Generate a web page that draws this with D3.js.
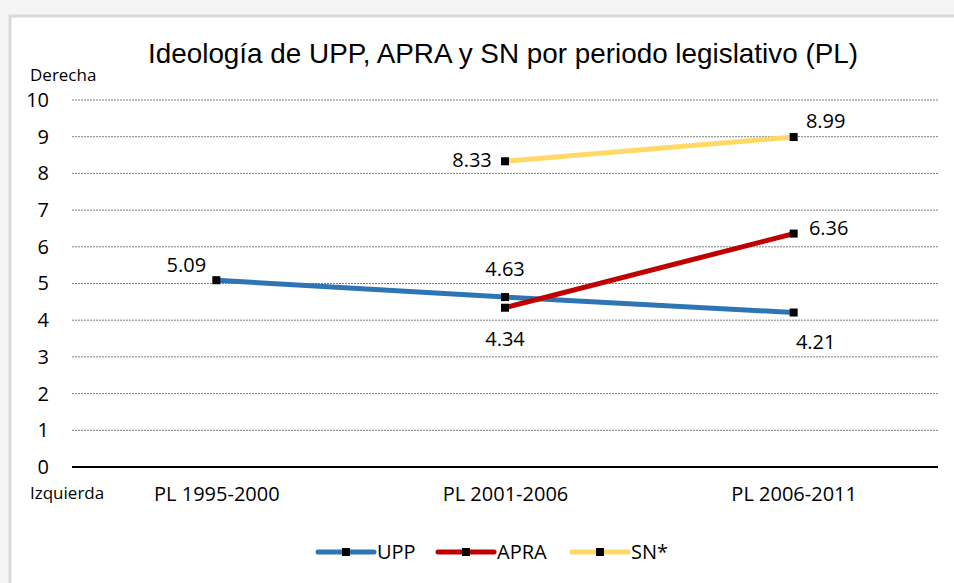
<!DOCTYPE html>
<html>
<head>
<meta charset="utf-8">
<script src="https://cdn.jsdelivr.net/npm/d3@7"></script>
<style>
  body { margin: 0; background: #fff; }
  svg text { font-family: "Open Sans", "Noto Sans", sans-serif; fill: #000; }
</style>
</head>
<body>
<svg id="chart" width="954" height="583"></svg>
<script>
const periods = ['PL 1995-2000', 'PL 2001-2006', 'PL 2006-2011'];
const seriesNames = ['UPP', 'APRA', 'SN*'];
const seriesColors = ['#2e75b6', '#c00000', '#ffd966'];
const uppValues = [5.09, 4.63, 4.21];
const apraValues = [null, 4.34, 6.36];
const snValues = [null, 8.33, 8.99];
const yTicks = [0, 1, 2, 3, 4, 5, 6, 7, 8, 9, 10];

// where each value label sits relative to its point [dx, dy]
const labelPos = {
  UPP: [[-30, -15], [0, -28], [22, 30]],
  APRA: [null, [0, 31], [35, -6]],
  'SN*': [null, [-33, -1], [32, -16]]
};

const svg = d3.select('#chart');
const [w, h] = [954, 583];
const m = { left: 72, right: 16, top: 100, bottom: 116 };

// faint outer strip + chart frame
svg.append('rect').attr('x', 0).attr('y', 0).attr('width', w).attr('height', h).attr('fill', '#f5f5f5');
svg.append('rect').attr('x', 10).attr('y', 16).attr('width', w).attr('height', h)
  .attr('fill', '#fff').attr('stroke', '#d9d9d9').attr('stroke-width', 3);

const x = d3.scalePoint().domain(periods).range([m.left, w - m.right]).padding(0.5);
const y = d3.scaleLinear().domain([0, 10]).range([h - m.bottom, m.top]);

// gridlines
svg.append('g').selectAll('line')
  .data(yTicks.filter(d => d > 0)).join('line')
  .attr('x1', m.left).attr('x2', w - m.right)
  .attr('y1', d => y(d)).attr('y2', d => y(d))
  .attr('stroke', '#7f7f7f').attr('stroke-width', 1).attr('stroke-dasharray', '2,1');

// y axis labels
const yAxis = d3.axisLeft(y).tickValues(yTicks).tickSize(0).tickPadding(0);
svg.append('g').attr('transform', `translate(${m.left - 23},0)`)
  .call(yAxis)
  .call(g => g.select('.domain').remove())
  .call(g => g.selectAll('text').attr('font-size', 20).style('font-family', '"Open Sans", sans-serif'));

// x axis
const xAxis = d3.axisBottom(x).tickSize(0).tickPadding(20);
svg.append('g').attr('transform', `translate(0,${y(0)})`)
  .call(xAxis)
  .call(g => g.select('.domain').attr('stroke', '#000').attr('stroke-width', 2)
    .attr('d', `M${m.left},0H${w - m.right}`))
  .call(g => g.selectAll('text').attr('font-size', 20).style('font-family', '"Open Sans", sans-serif'));

// title + axis ends
svg.append('text').text('Ideología de UPP, APRA y SN por periodo legislativo (PL)')
  .attr('x', 503).attr('y', 63).attr('text-anchor', 'middle').attr('font-size', 28)
  .style('font-family', '"Liberation Sans Narrow", "Liberation Sans", Arial, sans-serif')
  .attr('textLength', 710).attr('lengthAdjust', 'spacingAndGlyphs');
svg.append('text').text('Derecha').attr('x', 30).attr('y', 81).attr('font-size', 17);
svg.append('text').text('Izquierda').attr('x', 30).attr('y', 499).attr('font-size', 17);

const series = [uppValues, apraValues, snValues].map((vals, i) => ({
  name: seriesNames[i], color: seriesColors[i],
  points: vals.map((v, j) => ({ period: periods[j], value: v, idx: j })).filter(p => p.value !== null)
}));

const line = d3.line().x(d => x(d.period)).y(d => y(d.value));

const sg = svg.append('g').selectAll('g').data(series).join('g');
sg.append('path')
  .attr('d', d => line(d.points))
  .attr('fill', 'none').attr('stroke', d => d.color).attr('stroke-width', 5);
sg.selectAll('rect').data(d => d.points).join('rect')
  .attr('x', d => x(d.period) - 4).attr('y', d => y(d.value) - 4)
  .attr('width', 8).attr('height', 8).attr('fill', '#000');
sg.each(function(s) {
  d3.select(this).selectAll('text.lbl').data(s.points).join('text')
    .attr('class', 'lbl')
    .attr('x', d => x(d.period) + labelPos[s.name][d.idx][0])
    .attr('y', d => y(d.value) + labelPos[s.name][d.idx][1])
    .attr('text-anchor', 'middle').attr('dy', '0.35em').attr('font-size', 20)
    .text(d => d.value.toFixed(2));
});

// legend
const legendX = [318, 438, 572];
const lg = svg.append('g').selectAll('g').data(series).join('g')
  .attr('transform', (d, i) => `translate(${legendX[i]},552)`);
lg.append('line').attr('x1', 0).attr('x2', 56).attr('stroke', d => d.color)
  .attr('stroke-width', 5).attr('stroke-linecap', 'round');
lg.append('rect').attr('x', 24).attr('y', -4).attr('width', 8).attr('height', 8).attr('fill', '#000');
lg.append('text').text(d => d.name).attr('x', 59).attr('dy', '0.35em').attr('font-size', 20);
</script>
</body>
</html>
